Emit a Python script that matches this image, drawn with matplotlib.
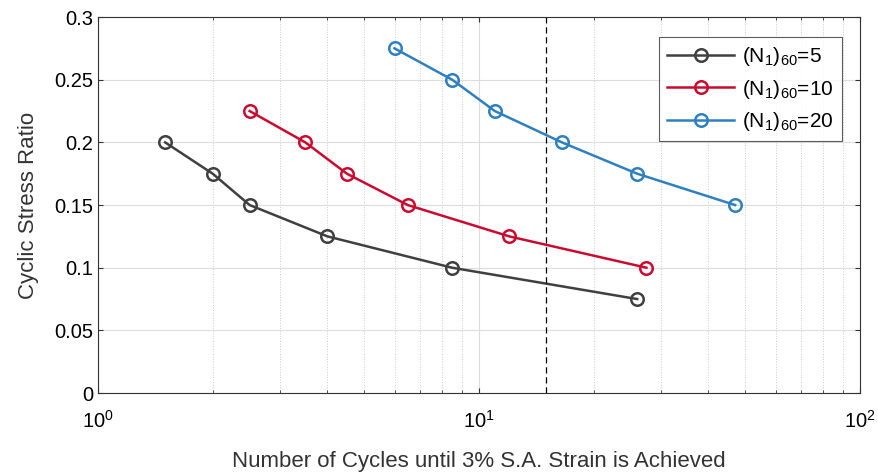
import matplotlib
matplotlib.use("Agg")
import matplotlib.pyplot as plt
from matplotlib.ticker import LogLocator, NullFormatter

plt.rcParams['font.family'] = ['Liberation Sans', 'DejaVu Sans']
plt.rcParams['mathtext.fontset'] = 'custom'
plt.rcParams['mathtext.rm'] = 'Liberation Sans'
plt.rcParams['mathtext.it'] = 'Liberation Sans'

# data
x_n5 = [1.5, 2.0, 2.5, 4.0, 8.5, 26.0]
y_n5 = [0.2, 0.175, 0.15, 0.125, 0.1, 0.075]
x_n10 = [2.5, 3.5, 4.5, 6.5, 12.0, 27.5]
y_n10 = [0.225, 0.2, 0.175, 0.15, 0.125, 0.1]
x_n20 = [6.0, 8.5, 11.0, 16.5, 26.0, 47.0]
y_n20 = [0.275, 0.25, 0.225, 0.2, 0.175, 0.15]
labels = ['$\\mathrm{(N_1)_{60}}$=5', '$\\mathrm{(N_1)_{60}}$=10', '$\\mathrm{(N_1)_{60}}$=20']
colors = ['#404040', '#cc0a2f', '#2f80c0']
n_target = 15

fig = plt.figure(figsize=(8.79, 4.73), dpi=100)
ax = fig.add_axes([0.1115, 0.169, 0.867, 0.795])

for xs, ys, lab, c in zip([x_n5, x_n10, x_n20], [y_n5, y_n10, y_n20], labels, colors):
    ax.plot(xs, ys, '-o', color=c, lw=1.8, ms=9, mfc='none', mew=1.8, label=lab)

ax.axvline(n_target, color='black', ls=(0, (5, 3)), lw=0.9)

ax.set_xscale('log')
ax.set_xlim(1, 100)
ax.set_ylim(0, 0.3)
ax.set_yticks([0, 0.05, 0.1, 0.15, 0.2, 0.25, 0.3])
ax.set_yticklabels(['0', '0.05', '0.1', '0.15', '0.2', '0.25', '0.3'])
ax.xaxis.set_major_locator(LogLocator(base=10, numticks=5))
ax.xaxis.set_minor_locator(LogLocator(base=10, subs=range(2, 10), numticks=20))
ax.xaxis.set_minor_formatter(NullFormatter())

ax.grid(True, which='major', color='#dddddd', lw=0.8)
ax.grid(True, which='minor', axis='x', color='#cccccc', ls=':', lw=0.7)
ax.set_axisbelow(True)

ax.tick_params(which='both', direction='in', top=True, right=True, labelsize=14.5, color='#333333')
ax.tick_params(axis='x', pad=12)
for s in ax.spines.values():
    s.set_color('#333333')
    s.set_linewidth(0.8)

ax.set_xlabel('Number of Cycles until 3% S.A. Strain is Achieved', fontsize=16, color='#333333', labelpad=14)
ax.set_ylabel('Cyclic Stress Ratio', fontsize=16, color='#333333', labelpad=11)

leg = ax.legend(loc='upper right', fontsize=15, frameon=True, fancybox=False,
                edgecolor='#333333', handlelength=3.2, handletextpad=0.4, borderpad=0.4,
                labelspacing=0.45, bbox_to_anchor=(0.99, 0.975))
leg.get_frame().set_linewidth(0.8)

fig.savefig('out.png', dpi=100)
